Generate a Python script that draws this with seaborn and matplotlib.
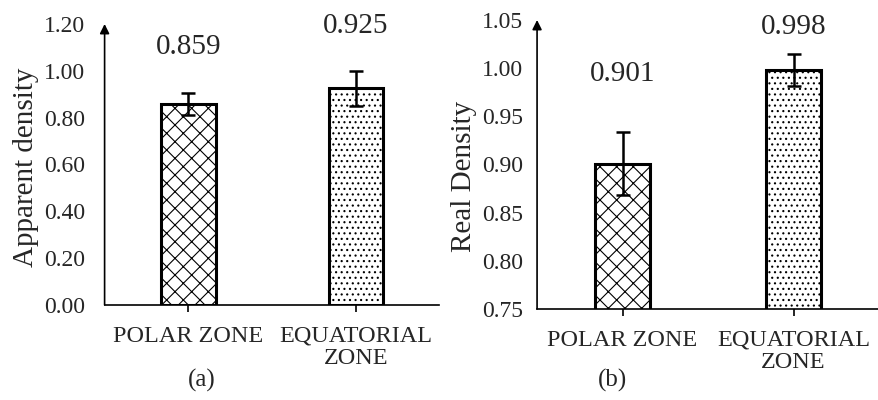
import numpy as np
import pandas as pd
import matplotlib
matplotlib.use("Agg")
import matplotlib.pyplot as plt
import seaborn as sns

# datos
zonas = ["POLAR ZONE", "EQUATORIAL\nZONE"]
aparente = [0.859, 0.925]
aparente_err = [0.047, 0.075]
real = [0.901, 0.998]
real_err = [0.033, 0.017]

sns.set_style("white")
plt.rcParams["font.family"] = ["Liberation Serif", "DejaVu Serif"]
plt.rcParams["hatch.linewidth"] = 0.8

fig = plt.figure(figsize=(8.79, 4.0), dpi=100)
ax1 = fig.add_axes([0.119, 0.2375, 0.381, 0.7025])
ax2 = fig.add_axes([0.611, 0.2275, 0.389, 0.7225])

tramas = ["xx", "..."]


def panel(ax, valores, errores, ylim, paso, ylabel, label_y, pad, lab_x, lab_y):
    df = pd.DataFrame({"zona": zonas, "valor": valores})
    sns.barplot(data=df, x="zona", y="valor", ax=ax, color="white",
                edgecolor="black", linewidth=2.2, width=0.325, errorbar=None)
    centros = []
    for p, h in zip(ax.patches, tramas):
        p.set_hatch(h)
        centros.append(p.get_x() + p.get_width() / 2)
    ax.errorbar(centros, valores, yerr=errores, fmt="none", ecolor="black",
                elinewidth=1.8, capsize=5, capthick=1.8, zorder=5)
    for x, v, ly in zip(centros, valores, label_y):
        ax.text(x, ly, f"{v:.3f}", ha="center", va="center", fontsize=21)
    ax.set_xlim(-0.5, 1.5)
    ax.set_ylim(*ylim)
    ax.set_yticks(np.arange(ylim[0], ylim[1] + paso / 2, paso))
    ax.yaxis.set_major_formatter(matplotlib.ticker.FormatStrFormatter("%.2f"))
    ax.set_xlabel("")
    ax.set_ylabel(ylabel, fontsize=21)
    ax.yaxis.set_label_coords(lab_x, lab_y)
    ax.tick_params(axis="y", length=0, pad=pad, labelsize=17)
    ax.tick_params(axis="x", length=5, width=1.2, direction="out", color="black",
                   pad=10, labelsize=17.5, bottom=True)
    for t in ax.get_xticklabels():
        t.set_linespacing(1.05)
    for s in ["top", "right", "left"]:
        ax.spines[s].set_visible(False)
    ax.spines["bottom"].set_color("black")
    ax.spines["bottom"].set_linewidth(1.2)
    ax.annotate("", xy=(0, 1.0), xytext=(0, 0), xycoords="axes fraction",
                arrowprops=dict(arrowstyle="-|>", color="black", lw=1.2,
                                mutation_scale=14, shrinkA=0, shrinkB=0))


panel(ax1, aparente, aparente_err, (0.0, 1.2), 0.2, "Apparent density",
      [1.10, 1.19], 14, -0.197, 0.49)
panel(ax2, real, real_err, (0.75, 1.05), 0.05, "Real Density",
      [0.994, 1.043], 10, -0.175, 0.46)

fig.text(0.23, 0.05, "(a)", ha="center", va="center", fontsize=18)
fig.text(0.697, 0.05, "(b)", ha="center", va="center", fontsize=18)

fig.savefig("out.png", dpi=100)
